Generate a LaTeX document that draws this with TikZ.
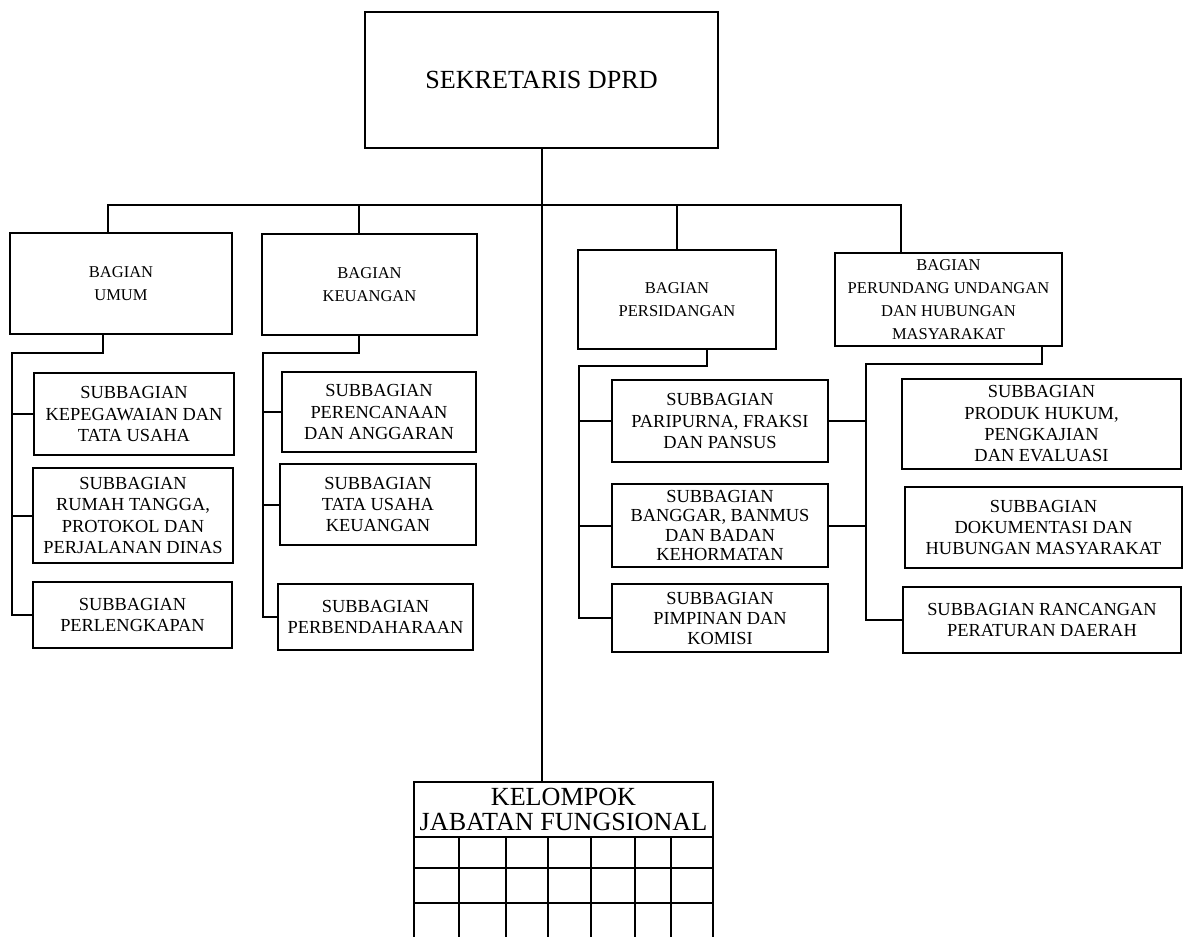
\documentclass[tikz,border=0pt]{standalone}
\usepackage{fontspec}
\setmainfont{Liberation Serif}
\tikzset{
  box/.style={draw, line width=1.5pt, inner sep=0pt, align=center, rectangle},
  subtxt/.style={font=\fontsize{13.8}{16}\selectfont},
  bagtxt/.style={font=\fontsize{12.4}{17.3}\selectfont},
  toptxt/.style={font=\fontsize{19.6}{23}\selectfont},
  kltxt/.style={font=\fontsize{19.6}{18.5}\selectfont},
  conn/.style={line width=1.5pt, line cap=rect},
}
\newcommand\bx[7]{\node[box,#6,minimum width={(#4-#2)*0.75pt},minimum height={(#5-#3)*0.75pt}] (#1) at ({(#2+#4)/2},{(#3+#5)/2}) {#7};}
\begin{document}
\begin{tikzpicture}[x=0.75pt,y=-0.75pt]
\useasboundingbox (0,0) rectangle (1184,937);
% top
\bx{top}{365}{12}{718}{148}{toptxt}{SEKRETARIS DPRD}
% bagian
\bx{umum}{10}{233}{232}{334}{bagtxt}{BAGIAN\\UMUM}
\bx{keu}{262}{234}{477}{335}{bagtxt}{BAGIAN\\KEUANGAN}
\bx{pers}{578}{250}{776}{349}{bagtxt}{BAGIAN\\PERSIDANGAN}
\bx{perun}{835}{253}{1062}{346}{bagtxt}{BAGIAN\\PERUNDANG UNDANGAN\\DAN HUBUNGAN\\MASYARAKAT}
% subbagian umum
\bx{us1}{34}{373}{234}{455}{subtxt}{SUBBAGIAN\\KEPEGAWAIAN DAN\\TATA USAHA}
\bx{us2}{33}{468}{233}{563}{subtxt}{SUBBAGIAN\\RUMAH TANGGA,\\PROTOKOL DAN\\PERJALANAN DINAS}
\bx{us3}{33}{582}{232}{648}{subtxt}{SUBBAGIAN\\PERLENGKAPAN}
% subbagian keuangan
\bx{ks1}{282}{372}{476}{452}{subtxt}{SUBBAGIAN\\PERENCANAAN\\DAN ANGGARAN}
\bx{ks2}{280}{464}{476}{545}{subtxt}{SUBBAGIAN\\TATA USAHA\\KEUANGAN}
\bx{ks3}{278}{584}{473}{650}{subtxt}{SUBBAGIAN\\PERBENDAHARAAN}
% subbagian persidangan
\bx{ps1}{612}{380}{828}{462}{subtxt}{SUBBAGIAN\\PARIPURNA, FRAKSI\\DAN PANSUS}
\bx{ps2}{612}{484}{828}{567}{font=\fontsize{13.8}{14.3}\selectfont}{SUBBAGIAN\\BANGGAR, BANMUS\\DAN BADAN\\KEHORMATAN}
\bx{ps3}{612}{584}{828}{652}{font=\fontsize{13.8}{15}\selectfont}{SUBBAGIAN\\PIMPINAN DAN\\KOMISI}
% subbagian perundang
\bx{rs1}{902}{379}{1181}{469}{subtxt}{SUBBAGIAN\\PRODUK HUKUM,\\PENGKAJIAN\\DAN EVALUASI}
\bx{rs2}{905}{487}{1182}{568}{subtxt}{SUBBAGIAN\\DOKUMENTASI DAN\\HUBUNGAN MASYARAKAT}
\bx{rs3}{903}{587}{1181}{653}{subtxt}{SUBBAGIAN RANCANGAN\\PERATURAN DAERAH}
% kelompok
\bx{kel}{414}{782}{713}{837}{kltxt}{KELOMPOK\\JABATAN FUNGSIONAL}
% grid of kelompok
\foreach \gx in {414,459,506,548,591,635,671,713}
  \draw[conn,line cap=butt] (\gx,837) -- (\gx,937);
\foreach \gy in {868,903}
  \draw[conn,line cap=butt] (kel.west |- 0,\gy) -- (kel.east |- 0,\gy);
% coordinates
\coordinate (busL) at (108,205);
\coordinate (busR) at (901,205);
\coordinate (dk) at (359,205);
\coordinate (u1) at (103,353);
\coordinate (u2) at (12,353);
\coordinate (k1) at (359,353);
\coordinate (k2) at (263,353);
\coordinate (p1) at (707,366);
\coordinate (p2) at (579,366);
\coordinate (r1) at (1042,364);
\coordinate (r2) at (866,364);
% main connectors
\draw[conn] (top.south) -- (top.south |- kel.north);
\draw[conn] (busL |- umum.north) -- (busL) -- (busR) -- (busR |- perun.north);
\draw[conn] (dk) -- (dk |- keu.north);
\draw[conn] (pers.north) -- (pers.north |- busL);
% umum subtree
\draw[conn] (u1 |- umum.south) -- (u1) -- (u2) -- (u2 |- us3.west) -- (us3.west);
\draw[conn] (u2 |- us1.west) -- (us1.west);
\draw[conn] (u2 |- us2.west) -- (us2.west);
% keuangan subtree
\draw[conn] (k1 |- keu.south) -- (k1) -- (k2) -- (k2 |- ks3.west) -- (ks3.west);
\draw[conn] (k2 |- ks1.west) -- (ks1.west);
\draw[conn] (k2 |- ks2.west) -- (ks2.west);
% persidangan subtree
\draw[conn] (p1 |- pers.south) -- (p1) -- (p2) -- (p2 |- ps3.west) -- (ps3.west);
\draw[conn] (p2 |- ps1.west) -- (ps1.west);
\draw[conn] (p2 |- ps2.west) -- (ps2.west);
% perundang subtree
\draw[conn] (r1 |- perun.south) -- (r1) -- (r2) -- (r2 |- rs3.west) -- (rs3.west);
\draw[conn] (ps1.east) -- (ps1.east -| r2);
\draw[conn] (ps2.east) -- (ps2.east -| r2);
\end{tikzpicture}
\end{document}
